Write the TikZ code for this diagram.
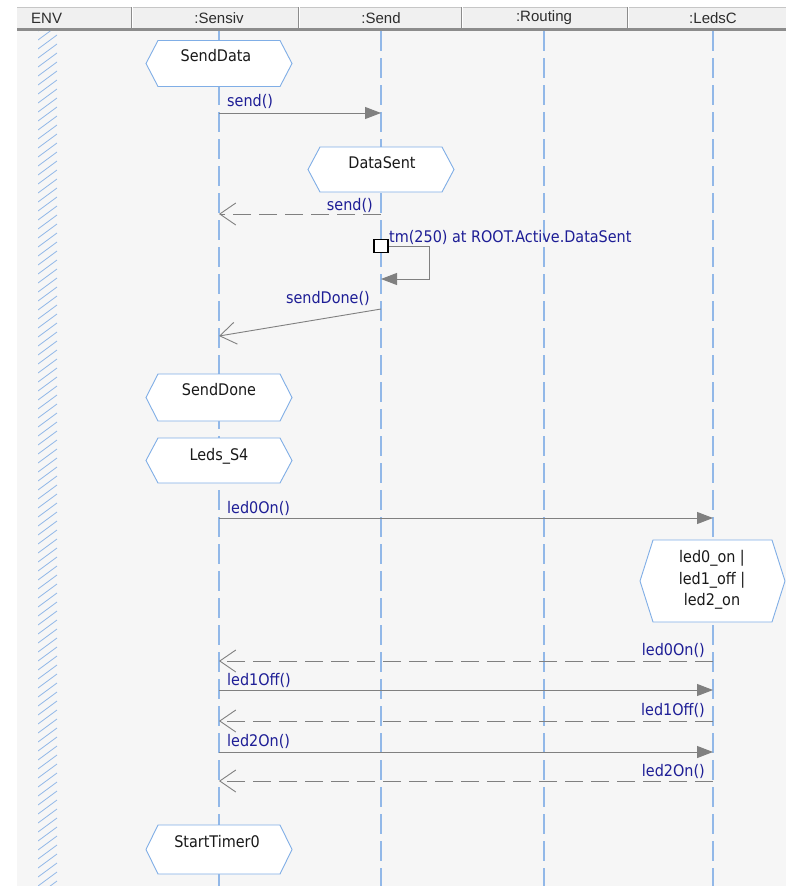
\documentclass[tikz,border=0pt]{standalone}
\usepackage{fontspec}
\setmainfont{DejaVu Sans Condensed}
\newfontfamily\headfont{Liberation Sans}
\usetikzlibrary{arrows.meta}

\definecolor{lifeblue}{RGB}{146,184,232}
\definecolor{hexblue}{RGB}{128,174,230}
\definecolor{msggray}{RGB}{128,128,128}
\definecolor{msgtext}{RGB}{30,30,150}
\definecolor{canvasbg}{RGB}{246,246,246}
\definecolor{headbg}{RGB}{240,240,240}
\definecolor{headline}{RGB}{140,140,140}
\definecolor{headtextcol}{RGB}{45,45,45}

% hexagonal state box: name, centre, width, height, corner indent
\newcommand\statehex[5]{%
  \node[hexbase, minimum width=#3pt, minimum height=#4pt] (#1) at (#2) {};
  \filldraw[hexedge] ([xshift=#5pt]#1.north west) -- ([xshift=-#5pt]#1.north east)
    -- (#1.east) -- ([xshift=-#5pt]#1.south east) -- ([xshift=#5pt]#1.south west)
    -- (#1.west) -- cycle;
}

\begin{document}
\begin{tikzpicture}[x=1pt,y=-1pt,
  lifeline/.style={draw=lifeblue, line width=1.1pt, dash pattern=on 20pt off 7pt},
  call/.style={draw=msggray, line width=0.9pt, -{Triangle[length=16pt,width=12pt]}},
  reply/.style={draw=msggray, line width=0.9pt, dash pattern=on 18pt off 8pt,
    -{Straight Barb[length=16pt,width=22pt]}},
  replysolid/.style={draw=msggray, line width=0.9pt, -{Straight Barb[length=16pt,width=22pt]}},
  msglabel/.style={text=msgtext, font=\fontsize{16}{19}\selectfont, inner sep=0pt},
  statetext/.style={text=black!90, font=\fontsize{16}{21.5}\selectfont, inner sep=0pt, align=center},
  headtext/.style={text=headtextcol, font=\headfont\fontsize{15}{18}\selectfont, inner sep=0pt},
  hexbase/.style={rectangle, inner sep=0pt, outer sep=0pt},
  hexedge/.style={fill=white, draw=hexblue, line width=0.9pt},
  timerbox/.style={rectangle, draw=black, fill=white, line width=1.2pt,
    minimum width=14pt, minimum height=13pt, inner sep=0pt}
]
\useasboundingbox (0,0) rectangle (786,886);
\fill[white] (0,0) rectangle (786,886);
\fill[canvasbg] (17,31) rectangle (786,886);

% header bar
\fill[headbg] (17,7) rectangle (786,28);
\draw[headline!50, line width=0.8pt] (17,7.4) -- (786,7.4);
\fill[headline] (17,28) rectangle (786,31);
\foreach \sx in {131,298,461,627} {
  \draw[headline, line width=0.9pt] (\sx,7) -- (\sx,28);
  \draw[white, line width=0.9pt] (\sx+1.2,7) -- (\sx+1.2,28);
}
\node[headtext, anchor=west] (h-env) at (31,18) {ENV};
\node[headtext] (h-sensiv) at (219,18) {:Sensiv};
\node[headtext] (h-send) at (381,18) {:Send};
\node[headtext] (h-routing) at (544,18) {:Routing};
\node[headtext] (h-leds) at (713,18) {:LedsC};

% environment lane
\begin{scope}
  \clip (38,31) rectangle (57,886);
  \foreach \hy in {31,40,...,910}
    \draw[lifeblue, line width=0.8pt] (38,\hy) -- (57,\hy-14);
\end{scope}

% lifelines
\foreach \lname/\lx in {sensiv/219, send/381, routing/544, leds/713} {
  \coordinate (\lname-top) at (\lx,31);
  \coordinate (\lname-bot) at (\lx,886);
  \draw[lifeline] (\lname-top) -- (\lname-bot);
}

% states
\statehex{st-senddata}{219,63.5}{146}{46}{12}
\node[statetext] (t-senddata) at (216,56) {SendData};
\statehex{st-datasent}{381,169.5}{146}{45}{12}
\node[statetext] (t-datasent) at (382,163) {DataSent};
\statehex{st-senddone}{219,397.5}{146}{47}{12}
\node[statetext] (t-senddone) at (219,390) {SendDone};
\statehex{st-leds}{219,460.5}{146}{45}{12}
\node[statetext] (t-leds) at (219,456) {Leds\_S4};
\statehex{st-ledstate}{712.5,581}{145}{82}{13}
\node[statetext] (t-ledstate) at (712,580) {led0\_on |\\led1\_off |\\led2\_on};
\statehex{st-timer}{219,849.5}{146}{49}{12}
\node[statetext] (t-timer) at (217,842) {StartTimer0};

% send() call and reply
\coordinate (se-m1) at (219,113);
\coordinate (sd-m1) at (381,113);
\draw[call] (se-m1) -- (sd-m1);
\node[msglabel, anchor=west] (l-m1) at ([xshift=8pt,yshift=12pt]se-m1) {send()};

\coordinate (sd-m2) at (381,214);
\coordinate (se-m2) at (219,214);
\draw[reply] (sd-m2) -- (se-m2);
\node[msglabel, anchor=east] (l-m2) at ([xshift=-8pt,yshift=9pt]sd-m2) {send()};

% timer on Send
\node[timerbox] (tmr) at (381,246) {};
\coordinate (sd-tm) at (381,279);
\draw[call] (tmr.east) -- ++(41,0) |- (sd-tm);
\node[msglabel, anchor=west] (l-tm) at (389,237) {tm(250) at ROOT.Active.DataSent};

% sendDone()
\coordinate (sd-m3) at (381,309);
\coordinate (se-m3) at (219,336);
\draw[replysolid] (sd-m3) -- (se-m3);
\node[msglabel, anchor=east] (l-m3) at ([xshift=-11pt,yshift=11pt]sd-m3) {sendDone()};

% LED calls and replies
\coordinate (se-m4) at (219,518);
\coordinate (lc-m4) at (713,518);
\draw[call] (se-m4) -- (lc-m4);
\node[msglabel, anchor=west] (l-m4) at ([xshift=8pt,yshift=10pt]se-m4) {led0On()};

\coordinate (lc-m5) at (713,661);
\coordinate (se-m5) at (219,661);
\draw[reply] (lc-m5) -- (se-m5);
\node[msglabel, anchor=east] (l-m5) at ([xshift=-8pt,yshift=11pt]lc-m5) {led0On()};

\coordinate (se-m6) at (219,690);
\coordinate (lc-m6) at (713,690);
\draw[call] (se-m6) -- (lc-m6);
\node[msglabel, anchor=west] (l-m6) at ([xshift=8pt,yshift=10pt]se-m6) {led1Off()};

\coordinate (lc-m7) at (713,721);
\coordinate (se-m7) at (219,721);
\draw[reply] (lc-m7) -- (se-m7);
\node[msglabel, anchor=east] (l-m7) at ([xshift=-8pt,yshift=11pt]lc-m7) {led1Off()};

\coordinate (se-m8) at (219,752);
\coordinate (lc-m8) at (713,752);
\draw[call] (se-m8) -- (lc-m8);
\node[msglabel, anchor=west] (l-m8) at ([xshift=8pt,yshift=11pt]se-m8) {led2On()};

\coordinate (lc-m9) at (713,781);
\coordinate (se-m9) at (219,781);
\draw[reply] (lc-m9) -- (se-m9);
\node[msglabel, anchor=east] (l-m9) at ([xshift=-8pt,yshift=10pt]lc-m9) {led2On()};
\end{tikzpicture}
\end{document}
